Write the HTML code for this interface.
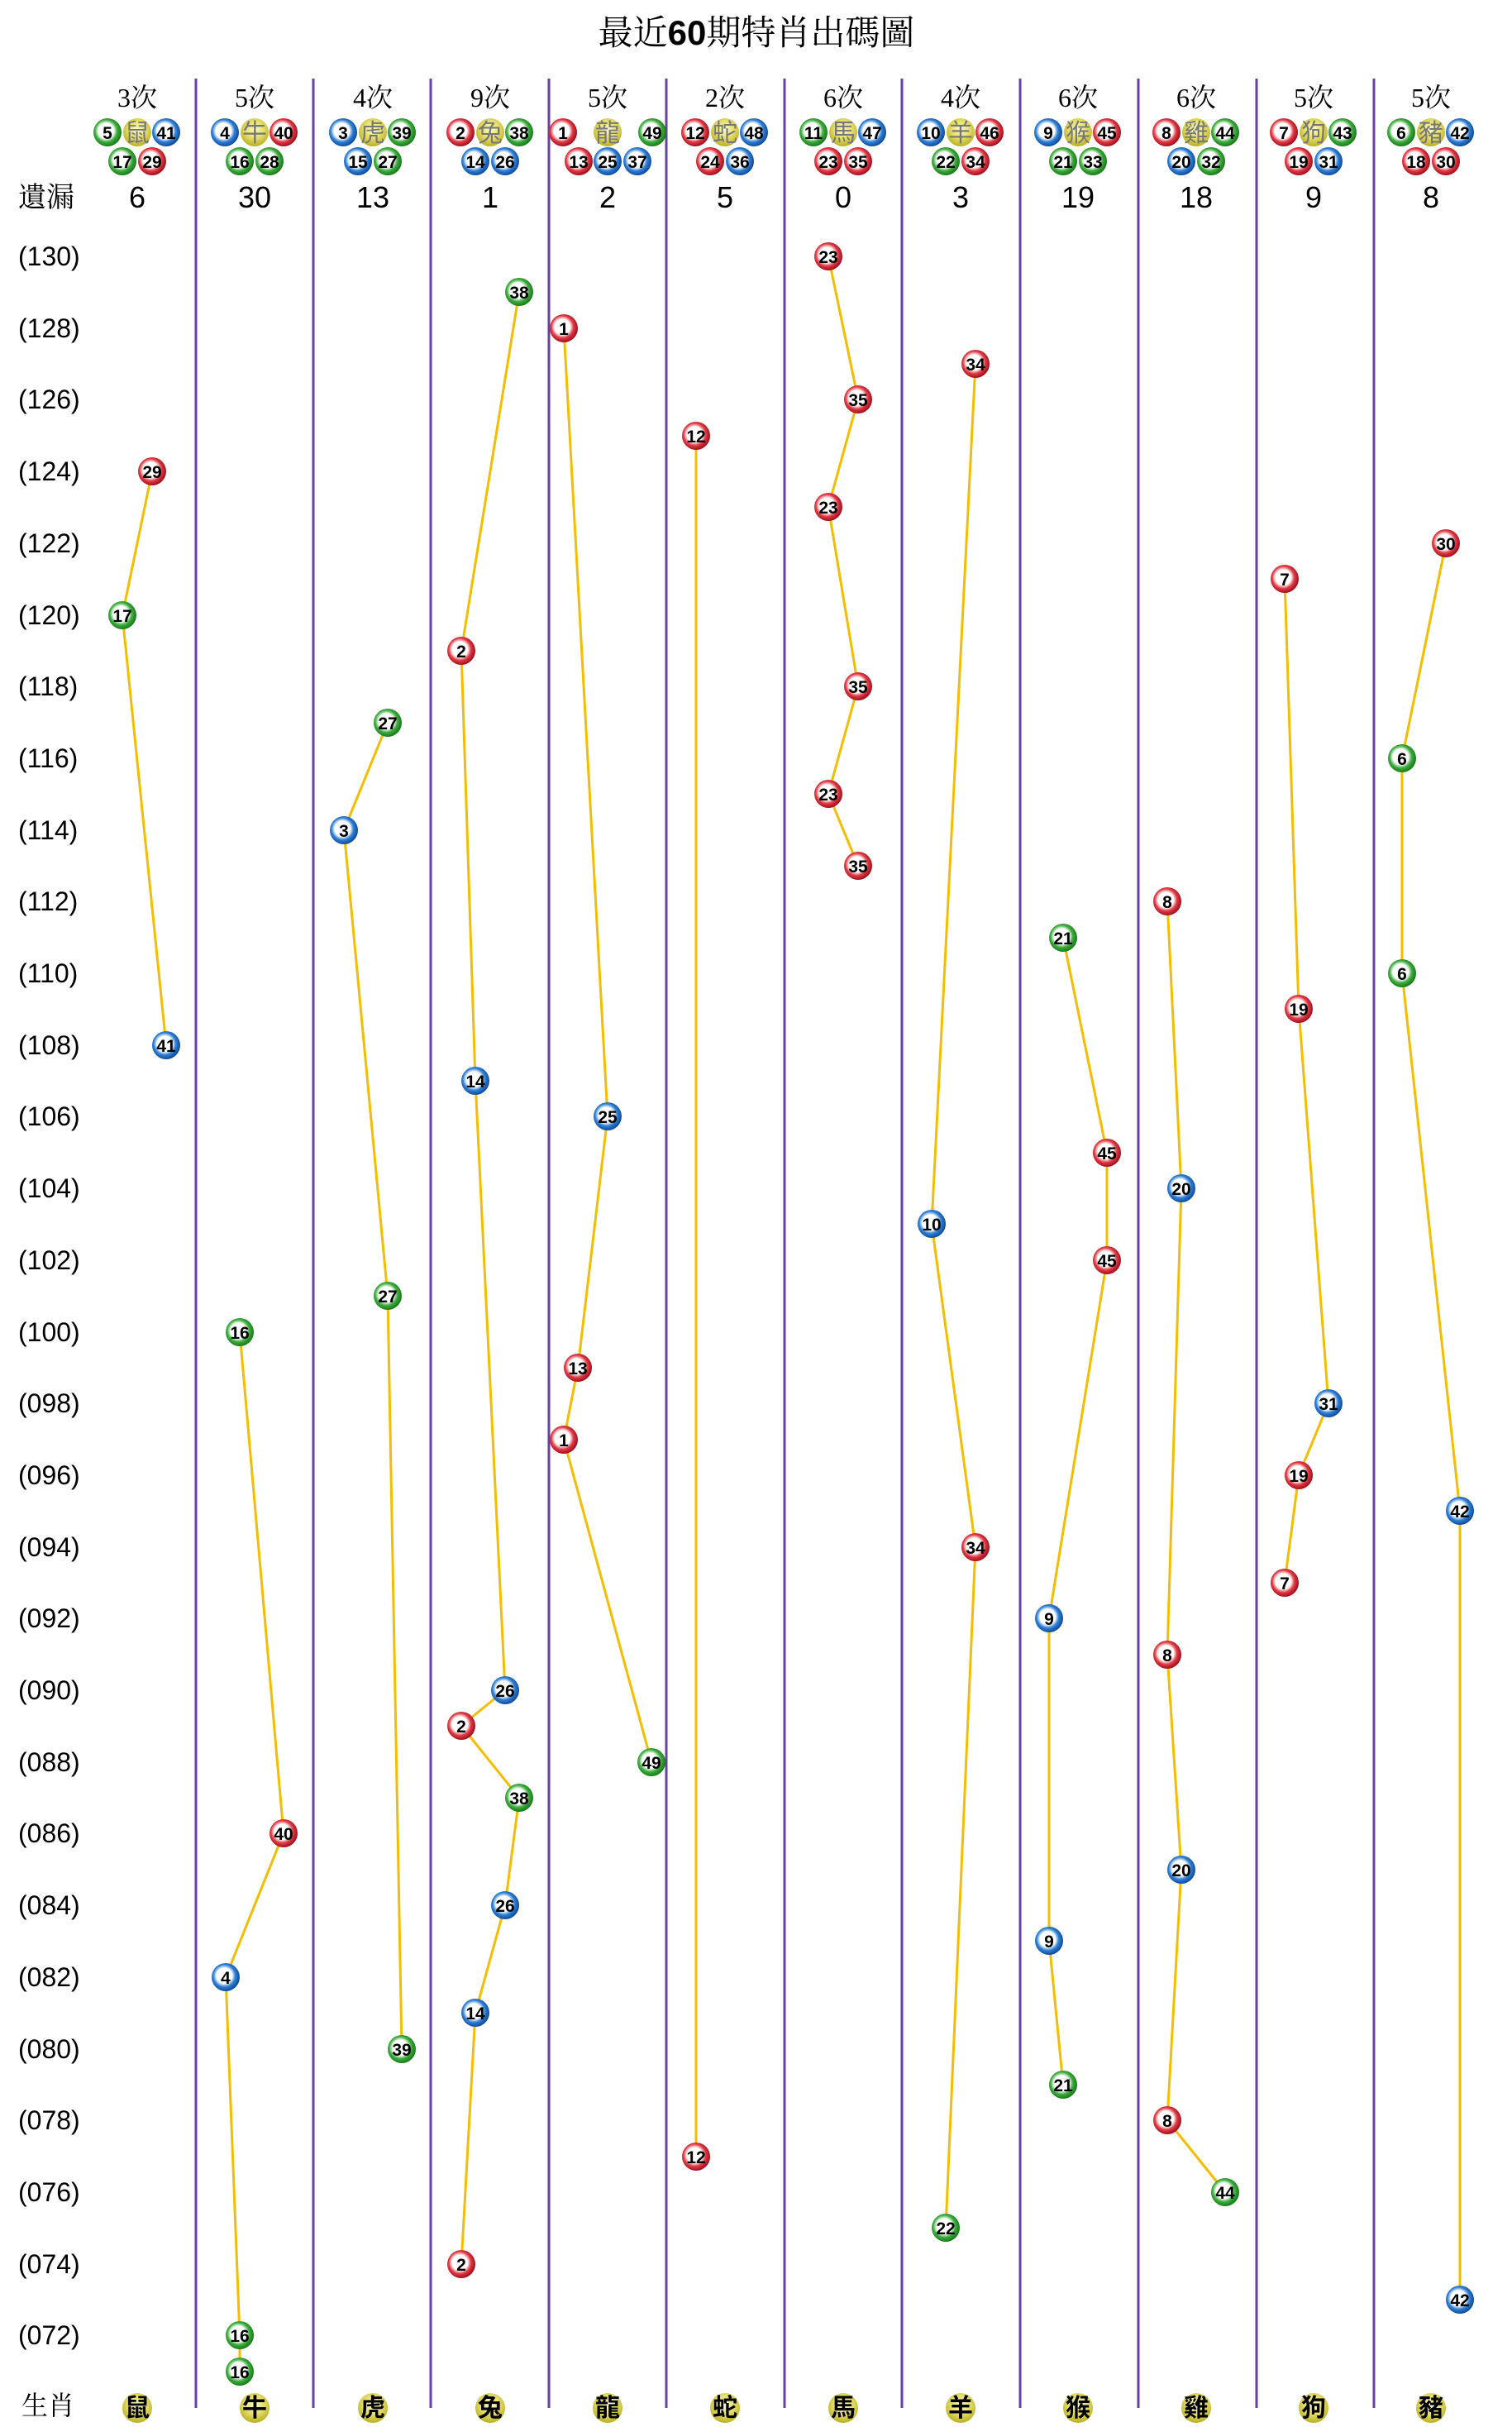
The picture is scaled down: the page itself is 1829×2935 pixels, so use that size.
<!DOCTYPE html>
<html><head><meta charset="utf-8"><style>
html,body{margin:0;padding:0;background:#fff;}
svg{display:block}
.t{font-family:"Liberation Serif","Noto Serif CJK SC",serif;fill:#000}
.n{font-family:"Liberation Sans Narrow","Liberation Sans",sans-serif;fill:#000}
.b{font-family:"Liberation Sans Narrow","Liberation Sans",sans-serif;font-weight:bold;font-size:21px;fill:#000;text-anchor:middle}
.z{font-family:"Noto Sans CJK SC",sans-serif;font-size:30px;fill:#777;text-anchor:middle}
.zb{font-family:"Noto Sans CJK SC",sans-serif;font-weight:bold;font-size:30px;fill:#000;text-anchor:middle}
</style></head><body>
<svg width="1829" height="2935" viewBox="0 0 1829 2935" xmlns="http://www.w3.org/2000/svg">
<defs>
<radialGradient id="R" cx="45%" cy="45%" r="55%"><stop offset="0" stop-color="#fff"/><stop offset="0.5" stop-color="#fff"/><stop offset="0.72" stop-color="#e23a44"/><stop offset="1" stop-color="#a01020"/></radialGradient>
<radialGradient id="B" cx="45%" cy="45%" r="55%"><stop offset="0" stop-color="#fff"/><stop offset="0.5" stop-color="#fff"/><stop offset="0.72" stop-color="#2e7fd6"/><stop offset="1" stop-color="#104c9a"/></radialGradient>
<radialGradient id="G" cx="45%" cy="45%" r="55%"><stop offset="0" stop-color="#fff"/><stop offset="0.5" stop-color="#fff"/><stop offset="0.72" stop-color="#3cac3c"/><stop offset="1" stop-color="#1a7a1a"/></radialGradient>
<radialGradient id="Y" cx="50%" cy="40%" r="60%"><stop offset="0" stop-color="#fafad0"/><stop offset="0.5" stop-color="#e8e070"/><stop offset="1" stop-color="#b8b020"/></radialGradient>
</defs>

<text class="t" x="915" y="54" font-size="42" text-anchor="middle">最近<tspan font-weight="bold" font-family="Liberation Sans,sans-serif">60</tspan>期特肖出碼圖</text>

<g stroke="#6a3fa8" stroke-width="3">
<line x1="237" y1="95" x2="237" y2="2912"/><line x1="379" y1="95" x2="379" y2="2912"/><line x1="521" y1="95" x2="521" y2="2912"/><line x1="664" y1="95" x2="664" y2="2912"/><line x1="806" y1="95" x2="806" y2="2912"/><line x1="949" y1="95" x2="949" y2="2912"/><line x1="1091" y1="95" x2="1091" y2="2912"/><line x1="1234" y1="95" x2="1234" y2="2912"/><line x1="1377" y1="95" x2="1377" y2="2912"/><line x1="1520" y1="95" x2="1520" y2="2912"/><line x1="1662" y1="95" x2="1662" y2="2912"/>
</g>

<g class="t" font-size="32" text-anchor="middle">
<text x="166" y="129">3次</text><text x="308" y="129">5次</text><text x="451" y="129">4次</text><text x="593" y="129">9次</text><text x="735" y="129">5次</text><text x="877" y="129">2次</text><text x="1020" y="129">6次</text><text x="1162" y="129">4次</text><text x="1304" y="129">6次</text><text x="1447" y="129">6次</text><text x="1589" y="129">5次</text><text x="1731" y="129">5次</text>
</g>
<text class="t" x="22" y="250" font-size="34">遺漏</text>
<g class="n" font-size="36" text-anchor="middle">
<text x="166" y="251">6</text><text x="308" y="251">30</text><text x="451" y="251">13</text><text x="593" y="251">1</text><text x="735" y="251">2</text><text x="877" y="251">5</text><text x="1020" y="251">0</text><text x="1162" y="251">3</text><text x="1304" y="251">19</text><text x="1447" y="251">18</text><text x="1589" y="251">9</text><text x="1731" y="251">8</text>
</g>

<g>
<circle cx="166" cy="160" r="17" fill="url(#Y)"/><text class="z" x="166" y="171">鼠</text>
<circle cx="308" cy="160" r="17" fill="url(#Y)"/><text class="z" x="308" y="171">牛</text>
<circle cx="451" cy="160" r="17" fill="url(#Y)"/><text class="z" x="451" y="171">虎</text>
<circle cx="593" cy="160" r="17" fill="url(#Y)"/><text class="z" x="593" y="171">兔</text>
<circle cx="735" cy="160" r="17" fill="url(#Y)"/><text class="z" x="735" y="171">龍</text>
<circle cx="877" cy="160" r="17" fill="url(#Y)"/><text class="z" x="877" y="171">蛇</text>
<circle cx="1020" cy="160" r="17" fill="url(#Y)"/><text class="z" x="1020" y="171">馬</text>
<circle cx="1162" cy="160" r="17" fill="url(#Y)"/><text class="z" x="1162" y="171">羊</text>
<circle cx="1304" cy="160" r="17" fill="url(#Y)"/><text class="z" x="1304" y="171">猴</text>
<circle cx="1447" cy="160" r="17" fill="url(#Y)"/><text class="z" x="1447" y="171">雞</text>
<circle cx="1589" cy="160" r="17" fill="url(#Y)"/><text class="z" x="1589" y="171">狗</text>
<circle cx="1731" cy="160" r="17" fill="url(#Y)"/><text class="z" x="1731" y="171">豬</text>
</g>
<g>
<circle cx="130" cy="160" r="17" fill="url(#G)"/><text class="b" x="130" y="168">5</text>
<circle cx="201" cy="160" r="17" fill="url(#B)"/><text class="b" x="201" y="168">41</text>
<circle cx="148" cy="195" r="17" fill="url(#G)"/><text class="b" x="148" y="203">17</text>
<circle cx="184" cy="195" r="17" fill="url(#R)"/><text class="b" x="184" y="203">29</text>

<circle cx="272" cy="160" r="17" fill="url(#B)"/><text class="b" x="272" y="168">4</text>
<circle cx="343" cy="160" r="17" fill="url(#R)"/><text class="b" x="343" y="168">40</text>
<circle cx="290" cy="195" r="17" fill="url(#G)"/><text class="b" x="290" y="203">16</text>
<circle cx="326" cy="195" r="17" fill="url(#G)"/><text class="b" x="326" y="203">28</text>

<circle cx="415" cy="160" r="17" fill="url(#B)"/><text class="b" x="415" y="168">3</text>
<circle cx="486" cy="160" r="17" fill="url(#G)"/><text class="b" x="486" y="168">39</text>
<circle cx="433" cy="195" r="17" fill="url(#B)"/><text class="b" x="433" y="203">15</text>
<circle cx="469" cy="195" r="17" fill="url(#G)"/><text class="b" x="469" y="203">27</text>

<circle cx="557" cy="160" r="17" fill="url(#R)"/><text class="b" x="557" y="168">2</text>
<circle cx="628" cy="160" r="17" fill="url(#G)"/><text class="b" x="628" y="168">38</text>
<circle cx="575" cy="195" r="17" fill="url(#B)"/><text class="b" x="575" y="203">14</text>
<circle cx="611" cy="195" r="17" fill="url(#B)"/><text class="b" x="611" y="203">26</text>

<circle cx="681" cy="160" r="17" fill="url(#R)"/><text class="b" x="681" y="168">1</text>
<circle cx="789" cy="160" r="17" fill="url(#G)"/><text class="b" x="789" y="168">49</text>
<circle cx="700" cy="195" r="17" fill="url(#R)"/><text class="b" x="700" y="203">13</text>
<circle cx="735" cy="195" r="17" fill="url(#B)"/><text class="b" x="735" y="203">25</text>
<circle cx="771" cy="195" r="17" fill="url(#B)"/><text class="b" x="771" y="203">37</text>

<circle cx="841" cy="160" r="17" fill="url(#R)"/><text class="b" x="841" y="168">12</text>
<circle cx="912" cy="160" r="17" fill="url(#B)"/><text class="b" x="912" y="168">48</text>
<circle cx="859" cy="195" r="17" fill="url(#R)"/><text class="b" x="859" y="203">24</text>
<circle cx="895" cy="195" r="17" fill="url(#B)"/><text class="b" x="895" y="203">36</text>

<circle cx="984" cy="160" r="17" fill="url(#G)"/><text class="b" x="984" y="168">11</text>
<circle cx="1055" cy="160" r="17" fill="url(#B)"/><text class="b" x="1055" y="168">47</text>
<circle cx="1002" cy="195" r="17" fill="url(#R)"/><text class="b" x="1002" y="203">23</text>
<circle cx="1038" cy="195" r="17" fill="url(#R)"/><text class="b" x="1038" y="203">35</text>

<circle cx="1126" cy="160" r="17" fill="url(#B)"/><text class="b" x="1126" y="168">10</text>
<circle cx="1197" cy="160" r="17" fill="url(#R)"/><text class="b" x="1197" y="168">46</text>
<circle cx="1144" cy="195" r="17" fill="url(#G)"/><text class="b" x="1144" y="203">22</text>
<circle cx="1180" cy="195" r="17" fill="url(#R)"/><text class="b" x="1180" y="203">34</text>

<circle cx="1268" cy="160" r="17" fill="url(#B)"/><text class="b" x="1268" y="168">9</text>
<circle cx="1339" cy="160" r="17" fill="url(#R)"/><text class="b" x="1339" y="168">45</text>
<circle cx="1286" cy="195" r="17" fill="url(#G)"/><text class="b" x="1286" y="203">21</text>
<circle cx="1322" cy="195" r="17" fill="url(#G)"/><text class="b" x="1322" y="203">33</text>

<circle cx="1411" cy="160" r="17" fill="url(#R)"/><text class="b" x="1411" y="168">8</text>
<circle cx="1482" cy="160" r="17" fill="url(#G)"/><text class="b" x="1482" y="168">44</text>
<circle cx="1429" cy="195" r="17" fill="url(#B)"/><text class="b" x="1429" y="203">20</text>
<circle cx="1465" cy="195" r="17" fill="url(#G)"/><text class="b" x="1465" y="203">32</text>

<circle cx="1553" cy="160" r="17" fill="url(#R)"/><text class="b" x="1553" y="168">7</text>
<circle cx="1624" cy="160" r="17" fill="url(#G)"/><text class="b" x="1624" y="168">43</text>
<circle cx="1571" cy="195" r="17" fill="url(#R)"/><text class="b" x="1571" y="203">19</text>
<circle cx="1607" cy="195" r="17" fill="url(#B)"/><text class="b" x="1607" y="203">31</text>

<circle cx="1695" cy="160" r="17" fill="url(#G)"/><text class="b" x="1695" y="168">6</text>
<circle cx="1766" cy="160" r="17" fill="url(#B)"/><text class="b" x="1766" y="168">42</text>
<circle cx="1713" cy="195" r="17" fill="url(#R)"/><text class="b" x="1713" y="203">18</text>
<circle cx="1749" cy="195" r="17" fill="url(#R)"/><text class="b" x="1749" y="203">30</text>
</g>

<g class="n" font-size="32">
<text x="22" y="321">(130)</text><text x="22" y="408">(128)</text><text x="22" y="494">(126)</text><text x="22" y="581">(124)</text><text x="22" y="668">(122)</text><text x="22" y="755">(120)</text><text x="22" y="841">(118)</text><text x="22" y="928">(116)</text><text x="22" y="1015">(114)</text><text x="22" y="1101">(112)</text><text x="22" y="1188">(110)</text><text x="22" y="1275">(108)</text><text x="22" y="1361">(106)</text><text x="22" y="1448">(104)</text><text x="22" y="1535">(102)</text><text x="22" y="1622">(100)</text><text x="22" y="1708">(098)</text><text x="22" y="1795">(096)</text><text x="22" y="1882">(094)</text><text x="22" y="1968">(092)</text><text x="22" y="2055">(090)</text><text x="22" y="2142">(088)</text><text x="22" y="2228">(086)</text><text x="22" y="2315">(084)</text><text x="22" y="2402">(082)</text><text x="22" y="2489">(080)</text><text x="22" y="2575">(078)</text><text x="22" y="2662">(076)</text><text x="22" y="2749">(074)</text><text x="22" y="2835">(072)</text>
</g>

<g fill="none" stroke="#f5bd00" stroke-width="3">
<polyline points="184,570 148,744 201,1264"/>
<polyline points="290,1611 343,2217 273,2391 290,2824 290,2868"/>
<polyline points="469,874 416,1004 469,1567 486,2478"/>
<polyline points="628,353 558,787 575,1307 611,2044 558,2087 628,2174 611,2304 575,2434 558,2738"/>
<polyline points="682,397 735,1350 699,1654 682,1741 788,2131"/>
<polyline points="842,527 842,2608"/>
<polyline points="1002,310 1038,483 1002,613 1038,830 1002,960 1038,1047"/>
<polyline points="1180,440 1127,1480 1180,1871 1144,2694"/>
<polyline points="1286,1134 1339,1394 1339,1524 1269,1957 1269,2347 1286,2521"/>
<polyline points="1412,1090 1429,1437 1412,2001 1429,2261 1412,2564 1482,2651"/>
<polyline points="1554,700 1571,1220 1607,1697 1571,1784 1554,1914"/>
<polyline points="1749,657 1696,917 1696,1177 1766,1827 1766,2781"/>
</g>

<g>
<circle cx="184" cy="570" r="17" fill="url(#R)"/><text class="b" x="184" y="578">29</text>
<circle cx="148" cy="744" r="17" fill="url(#G)"/><text class="b" x="148" y="752">17</text>
<circle cx="201" cy="1264" r="17" fill="url(#B)"/><text class="b" x="201" y="1272">41</text>

<circle cx="290" cy="1611" r="17" fill="url(#G)"/><text class="b" x="290" y="1619">16</text>
<circle cx="343" cy="2217" r="17" fill="url(#R)"/><text class="b" x="343" y="2225">40</text>
<circle cx="273" cy="2391" r="17" fill="url(#B)"/><text class="b" x="273" y="2399">4</text>
<circle cx="290" cy="2824" r="17" fill="url(#G)"/><text class="b" x="290" y="2832">16</text>
<circle cx="290" cy="2868" r="17" fill="url(#G)"/><text class="b" x="290" y="2876">16</text>

<circle cx="469" cy="874" r="17" fill="url(#G)"/><text class="b" x="469" y="882">27</text>
<circle cx="416" cy="1004" r="17" fill="url(#B)"/><text class="b" x="416" y="1012">3</text>
<circle cx="469" cy="1567" r="17" fill="url(#G)"/><text class="b" x="469" y="1575">27</text>
<circle cx="486" cy="2478" r="17" fill="url(#G)"/><text class="b" x="486" y="2486">39</text>

<circle cx="628" cy="353" r="17" fill="url(#G)"/><text class="b" x="628" y="361">38</text>
<circle cx="558" cy="787" r="17" fill="url(#R)"/><text class="b" x="558" y="795">2</text>
<circle cx="575" cy="1307" r="17" fill="url(#B)"/><text class="b" x="575" y="1315">14</text>
<circle cx="611" cy="2044" r="17" fill="url(#B)"/><text class="b" x="611" y="2052">26</text>
<circle cx="558" cy="2087" r="17" fill="url(#R)"/><text class="b" x="558" y="2095">2</text>
<circle cx="628" cy="2174" r="17" fill="url(#G)"/><text class="b" x="628" y="2182">38</text>
<circle cx="611" cy="2304" r="17" fill="url(#B)"/><text class="b" x="611" y="2312">26</text>
<circle cx="575" cy="2434" r="17" fill="url(#B)"/><text class="b" x="575" y="2442">14</text>
<circle cx="558" cy="2738" r="17" fill="url(#R)"/><text class="b" x="558" y="2746">2</text>

<circle cx="682" cy="397" r="17" fill="url(#R)"/><text class="b" x="682" y="405">1</text>
<circle cx="735" cy="1350" r="17" fill="url(#B)"/><text class="b" x="735" y="1358">25</text>
<circle cx="699" cy="1654" r="17" fill="url(#R)"/><text class="b" x="699" y="1662">13</text>
<circle cx="682" cy="1741" r="17" fill="url(#R)"/><text class="b" x="682" y="1749">1</text>
<circle cx="788" cy="2131" r="17" fill="url(#G)"/><text class="b" x="788" y="2139">49</text>

<circle cx="842" cy="527" r="17" fill="url(#R)"/><text class="b" x="842" y="535">12</text>
<circle cx="842" cy="2608" r="17" fill="url(#R)"/><text class="b" x="842" y="2616">12</text>

<circle cx="1002" cy="310" r="17" fill="url(#R)"/><text class="b" x="1002" y="318">23</text>
<circle cx="1038" cy="483" r="17" fill="url(#R)"/><text class="b" x="1038" y="491">35</text>
<circle cx="1002" cy="613" r="17" fill="url(#R)"/><text class="b" x="1002" y="621">23</text>
<circle cx="1038" cy="830" r="17" fill="url(#R)"/><text class="b" x="1038" y="838">35</text>
<circle cx="1002" cy="960" r="17" fill="url(#R)"/><text class="b" x="1002" y="968">23</text>
<circle cx="1038" cy="1047" r="17" fill="url(#R)"/><text class="b" x="1038" y="1055">35</text>

<circle cx="1180" cy="440" r="17" fill="url(#R)"/><text class="b" x="1180" y="448">34</text>
<circle cx="1127" cy="1480" r="17" fill="url(#B)"/><text class="b" x="1127" y="1488">10</text>
<circle cx="1180" cy="1871" r="17" fill="url(#R)"/><text class="b" x="1180" y="1879">34</text>
<circle cx="1144" cy="2694" r="17" fill="url(#G)"/><text class="b" x="1144" y="2702">22</text>

<circle cx="1286" cy="1134" r="17" fill="url(#G)"/><text class="b" x="1286" y="1142">21</text>
<circle cx="1339" cy="1394" r="17" fill="url(#R)"/><text class="b" x="1339" y="1402">45</text>
<circle cx="1339" cy="1524" r="17" fill="url(#R)"/><text class="b" x="1339" y="1532">45</text>
<circle cx="1269" cy="1957" r="17" fill="url(#B)"/><text class="b" x="1269" y="1965">9</text>
<circle cx="1269" cy="2347" r="17" fill="url(#B)"/><text class="b" x="1269" y="2355">9</text>
<circle cx="1286" cy="2521" r="17" fill="url(#G)"/><text class="b" x="1286" y="2529">21</text>

<circle cx="1412" cy="1090" r="17" fill="url(#R)"/><text class="b" x="1412" y="1098">8</text>
<circle cx="1429" cy="1437" r="17" fill="url(#B)"/><text class="b" x="1429" y="1445">20</text>
<circle cx="1412" cy="2001" r="17" fill="url(#R)"/><text class="b" x="1412" y="2009">8</text>
<circle cx="1429" cy="2261" r="17" fill="url(#B)"/><text class="b" x="1429" y="2269">20</text>
<circle cx="1412" cy="2564" r="17" fill="url(#R)"/><text class="b" x="1412" y="2572">8</text>
<circle cx="1482" cy="2651" r="17" fill="url(#G)"/><text class="b" x="1482" y="2659">44</text>

<circle cx="1554" cy="700" r="17" fill="url(#R)"/><text class="b" x="1554" y="708">7</text>
<circle cx="1571" cy="1220" r="17" fill="url(#R)"/><text class="b" x="1571" y="1228">19</text>
<circle cx="1607" cy="1697" r="17" fill="url(#B)"/><text class="b" x="1607" y="1705">31</text>
<circle cx="1571" cy="1784" r="17" fill="url(#R)"/><text class="b" x="1571" y="1792">19</text>
<circle cx="1554" cy="1914" r="17" fill="url(#R)"/><text class="b" x="1554" y="1922">7</text>

<circle cx="1749" cy="657" r="17" fill="url(#R)"/><text class="b" x="1749" y="665">30</text>
<circle cx="1696" cy="917" r="17" fill="url(#G)"/><text class="b" x="1696" y="925">6</text>
<circle cx="1696" cy="1177" r="17" fill="url(#G)"/><text class="b" x="1696" y="1185">6</text>
<circle cx="1766" cy="1827" r="17" fill="url(#B)"/><text class="b" x="1766" y="1835">42</text>
<circle cx="1766" cy="2781" r="17" fill="url(#B)"/><text class="b" x="1766" y="2789">42</text>
</g>

<text class="t" x="26" y="2920" font-size="32">生肖</text>
<g>
<circle cx="166" cy="2912" r="18" fill="url(#Y)"/><text class="zb" x="166" y="2922">鼠</text>
<circle cx="308" cy="2912" r="18" fill="url(#Y)"/><text class="zb" x="308" y="2922">牛</text>
<circle cx="451" cy="2912" r="18" fill="url(#Y)"/><text class="zb" x="451" y="2922">虎</text>
<circle cx="593" cy="2912" r="18" fill="url(#Y)"/><text class="zb" x="593" y="2922">兔</text>
<circle cx="735" cy="2912" r="18" fill="url(#Y)"/><text class="zb" x="735" y="2922">龍</text>
<circle cx="877" cy="2912" r="18" fill="url(#Y)"/><text class="zb" x="877" y="2922">蛇</text>
<circle cx="1020" cy="2912" r="18" fill="url(#Y)"/><text class="zb" x="1020" y="2922">馬</text>
<circle cx="1162" cy="2912" r="18" fill="url(#Y)"/><text class="zb" x="1162" y="2922">羊</text>
<circle cx="1304" cy="2912" r="18" fill="url(#Y)"/><text class="zb" x="1304" y="2922">猴</text>
<circle cx="1447" cy="2912" r="18" fill="url(#Y)"/><text class="zb" x="1447" y="2922">雞</text>
<circle cx="1589" cy="2912" r="18" fill="url(#Y)"/><text class="zb" x="1589" y="2922">狗</text>
<circle cx="1731" cy="2912" r="18" fill="url(#Y)"/><text class="zb" x="1731" y="2922">豬</text>
</g>
</svg>
</body></html>
